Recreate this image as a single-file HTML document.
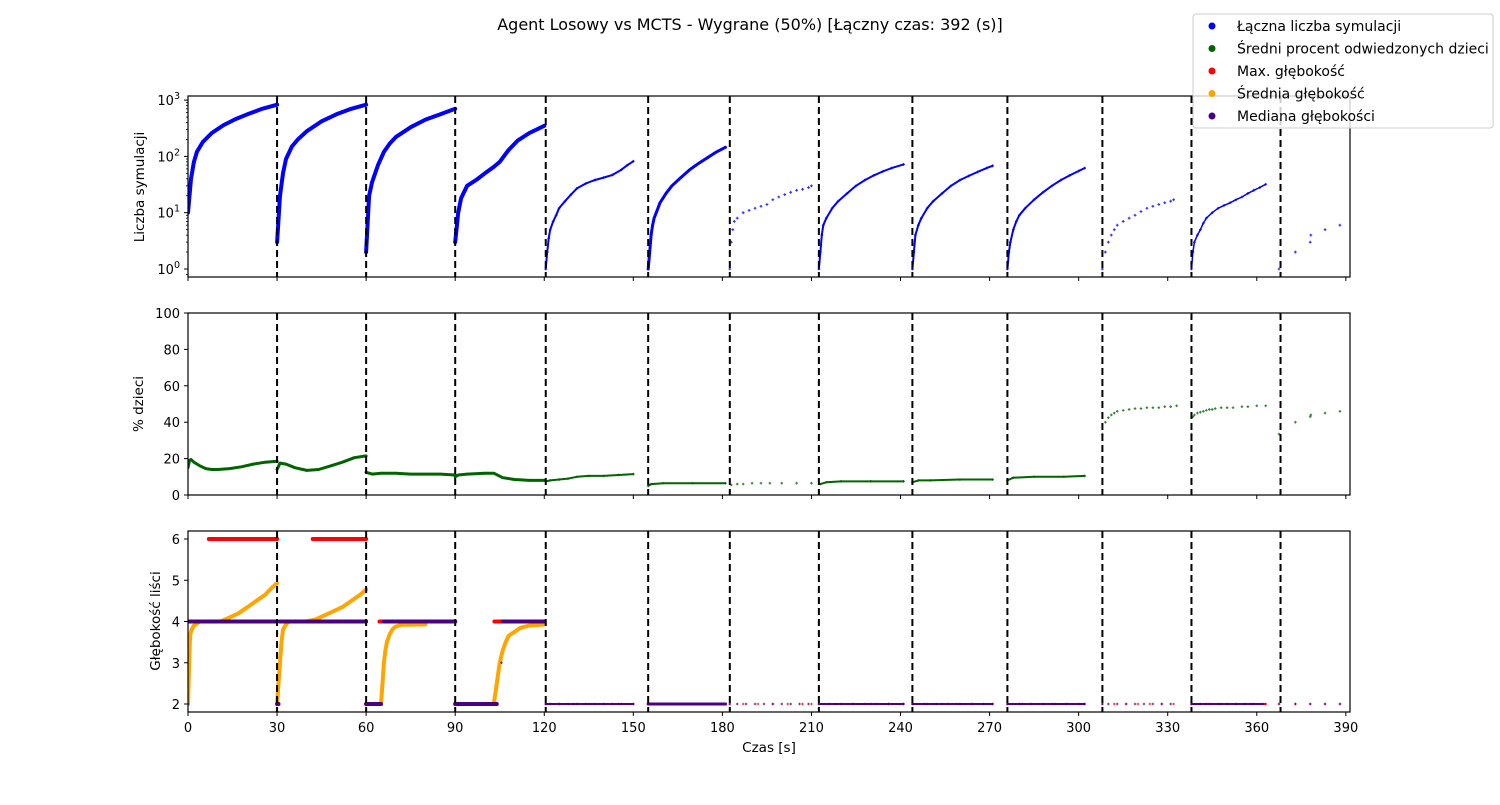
<!DOCTYPE html>
<html><head><meta charset="utf-8"><style>
body{margin:0;background:#fff;}
svg text{font-family:"DejaVu Sans","Liberation Sans",sans-serif;}
</style></head><body>
<svg id="chart" width="1500" height="800" xmlns="http://www.w3.org/2000/svg"></svg>
<script>
// ---- data ----
const xTicks = [0,30,60,90,120,150,180,210,240,270,300,330,360,390];
const gameBoundaries = [30,60,90,120.5,155,182.5,212.5,244,276,308,338,368];
const pctTicks = [0,20,40,60,80,100];
const depthTicks = [2,3,4,5,6];
const logTicks = [0,1,2,3];
// per-segment line thickness (style, not data)
const segWidthTop = [4,4,4,4,2,3,0,2,2,2,0,1.5,0];
const segWidthMid = [3,3,3,3,2,2,0,2,2,2,0,0,0];

const simsT = [
 [0,1,2,3,5,8,12,16,20,25,30],
 [30,31,32,33,35,37,40,45,50,55,60],
 [60,61,62,64,66,68,70,75,80,85,90],
 [90,91,92,94,97,100,103,105,108,111,115,120],
 [120.5,121,121.5,122,123,124,125,127,129,131,134,137,140,143,146,148,150],
 [155,155.5,156,156.5,157,158,159,161,163,166,169,172,175,178,181],
 [182.5,183,183.5,184,185,187,189,191,193,195,197,199,201,203,205,207,209,210],
 [212.5,213,213.5,214,215,217,219,222,225,228,231,234,237,241],
 [244,244.5,245,246,247,249,251,254,257,260,263,266,269,271],
 [276,276.5,277,278,279,280,282,285,288,291,294,297,300,302],
 [308,309,310,311,312,313,315,317,319,321,323,325,327,329,331,332],
 [338,338.5,339,340,341,342,343,345,347,349,351,353,355,357,359,361,363],
 [367.5,373,378,378.2,383,388,392]
];
const simsV = [
 [10,40,80,120,180,260,360,460,560,700,830],
 [3,20,50,90,150,200,280,420,560,700,830],
 [2,20,35,70,120,170,220,330,450,560,700],
 [3,10,18,30,38,50,65,80,130,190,260,350],
 [1,2,3.5,5,7,9,12,16,21,27,33,38,42,47,58,70,82],
 [1,2,4,6,8,11,15,22,30,42,58,75,95,120,145],
 [1,3,5,7,8,10,11,12,13,14,17,19,21,23,25,26,28,30],
 [1,2,4,6,8,12,16,22,30,38,46,54,62,72],
 [1,2,4,6,8,12,16,22,30,38,45,53,62,68],
 [1,2,3,5,7,9,12,17,23,30,38,46,55,62],
 [1,2,3,4,5,6,7,8,9,10.5,12,13,14,15,16,17],
 [1,2,3,4,5,6.5,8,10,12,13.5,15,17,19,22,25,28,32],
 [1,2,3,4,5,6,7]
];
const kidsT = [
 [0,0.5,1,2,4,6,8,10,14,18,22,26,30],
 [30,31,33,36,40,44,48,52,56,60],
 [60,62,65,70,75,80,85,90],
 [90,91,94,100,103,106,110,115,120],
 [120.5,122,125,128,131,135,140,145,150],
 [155,156,160,170,181],
 [183,185,187,190,193,196,200,205,210],
 [213,215,220,230,241],
 [244,246,250,260,271],
 [276,278,285,295,302],
 [308,309,310,311,312,313,315,317,319,321,323,325,327,329,331,333],
 [338,338.5,339,340,341,342,343,344,345,346,348,350,352,355,357,360,363],
 [367.5,373,378,378.2,383,388,392]
];
const kidsV = [
 [15,19,19.5,18,16,14.5,14,14,14.5,15.5,17,18,18.5],
 [14,17.5,17,15,13.5,14,16,18,20.5,21.5],
 [12.5,11.5,12,12,11.5,11.5,11.5,11],
 [10,11,11.5,12,12,9.5,8.5,8,8],
 [7.5,8,8.5,9,10,10.5,10.5,11,11.5],
 [5,6,6.5,6.5,6.5],
 [5.5,6,6,6.5,6.5,6.5,6.5,6.5,6.5],
 [6,7,7.5,7.5,7.5],
 [7,8,8,8.5,8.5],
 [8,9.5,10,10,10.5],
 [33.5,40,42.5,44,45,46,46.5,47,47.5,47.5,48,48,48,48.5,48.5,49],
 [33.5,43,44,45,45.5,46,46.5,47,47,47.5,48,48,48,48.5,48.5,49,49],
 [33.5,40,43,44,45,46,47]
];
const maxT = [
 [0,0.3,7,7.01,30],[30,31,42,42.01,60],[60,64,64.5,90],[90,103,103.2,120],
 [120.5,125,130,135,140,145,150],[155,160,165,170,175,181],[182.5,187,192,197,202,207,210],
 [212.5,218,224,230,236,241],[244,249,254,259,264,271],[276,281,286,291,296,302],
 [308,312,316,320,324,328,332],[338,343,348,353,358,363],[367.5,373,378,383,388]
];
const maxV = [
 [2,4,4,6,6],[2,4,4,6,6],[2,2,4,4],[2,2,4,4],
 [2,2,2,2,2,2,2],[2,2,2,2,2,2],[2,2,2,2,2,2,2],
 [2,2,2,2,2,2],[2,2,2,2,2,2],[2,2,2,2,2,2],
 [2,2,2,2,2,2,2],[2,2,2,2,2,2],[2,2,2,2,2]
];
const meanT = [
 [0,0.2,0.4,0.6,0.8,1.2,2,4,11,14,17,20,23,26,28,30],
 [30,30.5,31,31.5,32,33,34,40,43,46,49,52,55,58,60],
 [65,65.5,66,66.5,67,68,69,70,72,80],
 [103,104,105,106,107,108,110,112,115,120]
];
const meanV = [
 [2,2.5,3,3.5,3.7,3.8,3.9,4,4,4.1,4.2,4.35,4.5,4.65,4.8,4.93],
 [2,2.5,3,3.5,3.8,3.93,4,4,4.05,4.15,4.25,4.35,4.5,4.65,4.77],
 [2,2.5,3,3.3,3.5,3.7,3.82,3.88,3.92,3.93],
 [2,2.5,3,3.3,3.5,3.65,3.75,3.85,3.9,3.93]
];
const medT = [
 [0,0.5,30],[30,30.5,31,60],[60,65,66,90],[90,104,105.6,106,120],
 [120.5,122,125,128,131,134,137,140,143,146,150],[155,158,162,166,170,174,178,181],
 [182.5,185,188,191,194,197,200,203,206,209],[212.5,216,220,224,228,232,236,241],
 [244,248,252,256,260,264,268,271],[276,280,284,288,292,296,300,302],
 [308,310,313,316,319,322,325,328,331],[338,341,344,347,350,353,356,359,362],[367.5,373,378,383,388]
];
const medV = [
 [2,4,4],[2,2,4,4],[2,2,4,4],[2,2,3,4,4],
 [2,2,2,2,2,2,2,2,2,2,2],[2,2,2,2,2,2,2,2],
 [2,2,2,2,2,2,2,2,2,2],[2,2,2,2,2,2,2,2],
 [2,2,2,2,2,2,2,2],[2,2,2,2,2,2,2,2],
 [2,2,2,2,2,2,2,2,2],[2,2,2,2,2,2,2,2,2],[2,2,2,2,2]
];

// ---- layout / scales ----
const L=188, R=1350, XMAX=391.4;
const P1={top:96,bot:277}, P2={top:313,bot:495}, P3={top:531,bot:712};
const x = t => L + (t/XMAX)*(R-L);
const yLog = v => 269 - 56.3*Math.log10(v);
const yPct = v => P2.bot - (v/100)*(P2.bot-P2.top);
const yDep = v => 704 - (v-2)*41.25;
const svg = document.getElementById('chart');
const NS='http://www.w3.org/2000/svg';
function mk(tag, attrs, parent){const e=document.createElementNS(NS,tag);for(const k in attrs)e.setAttribute(k,attrs[k]);(parent||svg).appendChild(e);return e;}
function txt(s, attrs, parent){const e=mk('text',attrs,parent);e.textContent=s;return e;}

const title = txt('Agent Losowy vs MCTS - Wygrane (50%) [Łączny czas: 392 (s)]',{x:750,y:30,'text-anchor':'middle','font-size':16,fill:'#000'});



function drawSeries(P, yf, T, V, color, widths, gname, plusSize, breakJumps){
  const g=mk('g',{'clip-path':'url(#clip'+P.top+')'});
  
  
  for(let s=0;s<T.length;s++){
    const ts=T[s], vs=V[s];
    const w = widths? widths[s] : 0;
    if(w>0){
      let pts=[];
      const flush=()=>{ if(pts.length>1){const pl=mk('polyline',{points:pts.join(' '),fill:'none',stroke:color,'stroke-width':w,'stroke-linejoin':'round','stroke-linecap':'round'},g);
        
        } pts=[]; };
      for(let i=0;i<ts.length;i++){
        if(breakJumps && i>0 && Math.abs(yf(vs[i])-yf(vs[i-1]))>30) flush();
        pts.push(x(ts[i]).toFixed(1)+','+yf(vs[i]).toFixed(1));
      }
      flush();
    }
    for(let i=0;i<ts.length;i++){
      const cx=x(ts[i]), cy=yf(vs[i]), h=plusSize;
      const p=mk('path',{d:`M${cx-h},${cy}H${cx+h}M${cx},${cy-h}V${cy+h}`,stroke:color,'stroke-width':1.1,opacity:0.8},g);
      
      
    }
  }
}

const defs=mk('defs',{});
[P1,P2,P3].forEach(P=>{const c=mk('clipPath',{id:'clip'+P.top},defs);mk('rect',{x:L,y:P.top,width:R-L,height:P.bot-P.top},c);});

function frame(P,name){
  const r=mk('rect',{x:L,y:P.top,width:R-L,height:P.bot-P.top,fill:'none',stroke:'#000','stroke-width':1.2});
  
  
  xTicks.forEach(t=>{mk('line',{x1:x(t),x2:x(t),y1:P.bot,y2:P.bot+4,stroke:'#000','stroke-width':1});});
  gameBoundaries.forEach(b=>{
    const l=mk('line',{x1:x(b),x2:x(b),y1:P.top,y2:P.bot,stroke:'#000','stroke-width':2,'stroke-dasharray':'7,4'});
    
    
  });
}

// panel 1
drawSeries(P1,yLog,simsT,simsV,'#0000ff',segWidthTop,'simulations-series',1.4,false);
frame(P1,'simulations-panel');
logTicks.forEach(k=>{
  const yy=yLog(Math.pow(10,k));
  mk('line',{x1:L-4,x2:L,y1:yy,y2:yy,stroke:'#000'});
  const t=txt('',{x:L-8,y:yy+5,'text-anchor':'end','font-size':13});
  
  
  const a=mk('tspan',{},t);a.textContent='10';
  const b=mk('tspan',{dy:-6,'font-size':9.5},t);b.textContent=String(k);
  for(let m=2;m<10;m++){const v=m*Math.pow(10,k);const y2=yLog(v);if(y2>P1.top&&y2<P1.bot)mk('line',{x1:L-2,x2:L,y1:y2,y2:y2,stroke:'#000','stroke-width':0.8});}
});
{const v=0.8;mk('line',{x1:L-2,x2:L,y1:yLog(v),y2:yLog(v),stroke:'#000','stroke-width':0.8});}
const yt1=txt('Liczba symulacji',{x:144,y:187,'text-anchor':'middle','font-size':13.5,transform:'rotate(-90 144 187)'});



// panel 2
drawSeries(P2,yPct,kidsT,kidsV,'#006400',segWidthMid,'children-percent-series',1.3,false);
frame(P2,'children-panel');
pctTicks.forEach(v=>{const yy=yPct(v);mk('line',{x1:L-4,x2:L,y1:yy,y2:yy,stroke:'#000'});
  const t=txt(String(v),{x:L-8,y:yy+5,'text-anchor':'end','font-size':13});
  
  });
const yt2=txt('% dzieci',{x:143,y:404,'text-anchor':'middle','font-size':13.5,transform:'rotate(-90 143 404)'});



// panel 3
const dW=[4,4,4,4,2,3,0,2,2,2,0,2,0];
drawSeries(P3,yDep,maxT,maxV,'#ff0000',dW,'max-depth-series',1.3,true);
drawSeries(P3,yDep,meanT,meanV,'#ffa500',[4,4,4,4],'mean-depth-series',1.3,true);
drawSeries(P3,yDep,medT,medV,'#4b0082',dW,'median-depth-series',1.3,true);
frame(P3,'depth-panel');
depthTicks.forEach(v=>{const yy=yDep(v);mk('line',{x1:L-4,x2:L,y1:yy,y2:yy,stroke:'#000'});
  const t=txt(String(v),{x:L-8,y:yy+5,'text-anchor':'end','font-size':13});
  
  });
const yt3=txt('Głębokość liści',{x:160,y:621,'text-anchor':'middle','font-size':13.5,transform:'rotate(-90 160 621)'});


xTicks.forEach(t=>{const e=txt(String(t),{x:x(t),y:732,'text-anchor':'middle','font-size':13});
  
  });
const xt=txt('Czas [s]',{x:769,y:752,'text-anchor':'middle','font-size':13.5});



// legend
const legendLabels=['Łączna liczba symulacji','Średni procent odwiedzonych dzieci','Max. głębokość','Średnia głębokość','Mediana głębokości'];
const legendColors=['#0000ff','#006400','#ff0000','#ffa500','#4b0082'];
const lg=mk('g',{});


mk('rect',{x:1193,y:14,width:300,height:114,rx:3,fill:'#fff','fill-opacity':0.8,stroke:'#ccc'},lg);
legendLabels.forEach((s,i)=>{
  const yy=26+i*22.5;
  const c=mk('circle',{cx:1212,cy:yy,r:3.5,fill:legendColors[i]},lg);
  
  
  const t=txt(s,{x:1237,y:yy+5,'font-size':14,textLength:null},lg);
  t.removeAttribute('textLength');
  
  
});
</script>
</body></html>
